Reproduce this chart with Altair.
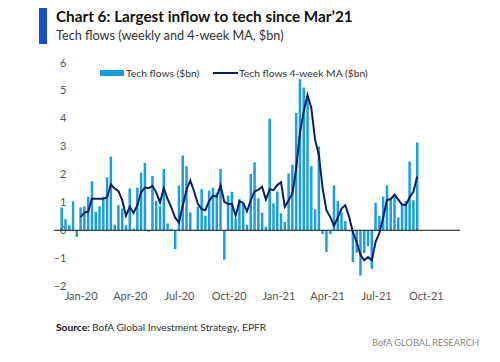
import altair as alt
import pandas as pd

# weekly dates (Wednesdays), first bar 27-Nov-2019
weeks = pd.date_range("2019-11-27", periods=95, freq="7D").strftime("%Y-%m-%dT00:00:00").tolist()

flows = [0.82, 0.40, 0.18, 1.04, -0.24, 0.82, 0.86, 1.20, 1.76, 0.66,
         0.86, 1.20, 1.90, 2.64, 0.20, 0.90, 0.78, 0.18, 1.50, 0.06,
         1.53, 2.07, 2.42, -0.05, 1.95, 1.06, 0.88, 2.20, 0.24, 0.05,
         -0.68, 1.60, 2.68, 2.30, 0.64, 0.02, 0.85, 1.48, 0.52, 1.42,
         1.53, 1.35, 2.20, -1.05, 1.24, 1.38, 0.42, 1.12, 0.97, 0.20,
         2.02, 2.44, 1.15, 0.63, 0.13, 4.00, 0.97, 1.39, 0.61, 0.30,
         2.04, 2.35, 4.21, 5.42, 5.12, 4.72, 2.30, 0.75, 3.00, -0.14,
         -0.78, -0.14, 1.61, 1.04, 0.64, 0.33, -0.04, -1.14, -0.80, -1.63,
         -0.82, -0.57, -1.38, 0.99, 0.52, 1.20, 1.61, 1.10, 1.20, 0.46,
         0.95, 1.05, 2.46, 1.08, 3.15]

ma = [None] * 5 + [
    0.47, 0.63, 0.67, 1.14, 1.13, 1.13, 1.13, 1.18, 1.64, 1.50,
    1.40, 1.08, 0.52, 0.84, 0.62, 0.90, 1.36, 1.53, 1.51, 1.59,
    1.36, 1.00, 1.52, 1.12, 0.82, 0.45, 0.28, 0.88, 1.45, 1.78,
    1.40, 0.95, 0.76, 0.72, 1.06, 1.24, 1.21, 1.60, 1.02, 0.94,
    0.95, 0.52, 1.04, 0.98, 0.68, 1.08, 1.40, 1.45, 1.56, 1.10,
    1.47, 1.44, 1.62, 1.72, 0.84, 1.08, 1.32, 2.22, 3.50, 4.27,
    4.85, 4.40, 3.25, 2.70, 1.50, 0.72, 0.48, 0.16, 0.45, 0.78,
    0.90, 0.48, -0.08, -0.42, -0.88, -1.08, -0.96, -1.08, -0.42, -0.10,
    0.45, 1.08, 1.12, 1.28, 1.10, 0.92, 0.90, 1.18, 1.38, 1.93]

y_ticks = [-2, -1, 0, 1, 2, 3, 4, 5, 6]
x_tick_months = [(2020, 1), (2020, 4), (2020, 7), (2020, 10),
                 (2021, 1), (2021, 4), (2021, 7), (2021, 10)]

title = "Chart 6: Largest inflow to tech since Mar\u201921"
subtitle = "Tech flows (weekly and 4-week MA, $bn)"
legend_bar = "Tech flows ($bn)"
legend_line = "Tech flows 4-week MA ($bn)"
source_label = "Source:"
source_text = "BofA Global Investment Strategy, EPFR"
brand = "BofA GLOBAL RESEARCH"

df = pd.DataFrame({"week": weeks, "flows": flows, "ma": ma})

BAR = "#1a9fdc"
LINE = "#0d1f5e"
FONT = "Lato, sans-serif"

xscale = alt.Scale(domain=[alt.DateTime(year=2019, month=11, date=22),
                           alt.DateTime(year=2021, month=11, date=24)])
yscale = alt.Scale(domain=[-2, 6], nice=False)
xaxis = alt.Axis(format="%b-%y",
                 values=[alt.DateTime(year=y, month=m, date=1) for y, m in x_tick_months],
                 title=None, domain=False, ticks=False, grid=False,
                 labelFont=FONT, labelFontSize=11, labelColor="#555555",
                 labelPadding=4, labelFlush=False, labelOverlap=False)
yaxis = alt.Axis(values=y_ticks, tickCount=9, title=None, domain=False, ticks=False,
                 grid=False, labelFont=FONT, labelFontSize=11, labelColor="#555555",
                 labelPadding=6, offset=-18, labelOverlap=False)

base = alt.Chart(df)
bars = base.mark_bar(color=BAR, size=2.5).encode(
    x=alt.X("week:T", scale=xscale, axis=xaxis),
    y=alt.Y("flows:Q", scale=yscale, axis=yaxis),
)
line = base.transform_filter("datum.ma != null").mark_line(
    color=LINE, strokeWidth=2).encode(
    x=alt.X("week:T", scale=xscale, axis=xaxis),
    y=alt.Y("ma:Q", scale=yscale, axis=yaxis))

one = pd.DataFrame({"z": [0]})
zero = alt.Chart(one).mark_rule(color="#111111", strokeWidth=1.2).encode(
    y=alt.YDatum(0, scale=yscale, axis=yaxis))


def txt(s, x, y, size, color="#333333", weight="normal", align="left"):
    return alt.Chart(pd.DataFrame({"t": [s]})).mark_text(
        font=FONT, fontSize=size, color=color, fontWeight=weight, align=align,
        baseline="alphabetic").encode(x=alt.value(x), y=alt.value(y), text="t:N")


title_bar = alt.Chart(one).mark_rect(color="#1350c8").encode(
    x=alt.value(-15), x2=alt.value(-7), y=alt.value(-56), y2=alt.value(-19))
leg_sw1 = alt.Chart(one).mark_rect(color=BAR).encode(
    x=alt.value(46), x2=alt.value(70), y=alt.value(7), y2=alt.value(13))
leg_sw2 = alt.Chart(one).mark_rule(color=LINE, strokeWidth=2).encode(
    x=alt.value(159), x2=alt.value(184), y=alt.value(10))

chart = alt.layer(
    bars, zero, line,
    title_bar,
    txt(title, 2, -41, 15.3, "#111111", "bold"),
    txt(subtitle, 2, -23, 12.7, "#333333"),
    leg_sw1, txt(legend_bar, 72, 14, 10.3, "#333333"),
    leg_sw2, txt(legend_line, 185, 14, 10.3, "#333333"),
    txt(source_label, 2, 268, 10.2, "#111111", "bold"),
    txt(source_text, 38, 268, 10.2, "#333333"),
    txt(brand, 425, 283, 9.3, "#8a8a8a", align="right"),
).properties(
    width=406, height=223,
    padding={"left": 46, "top": 55, "right": 30, "bottom": 70},
    autosize=alt.AutoSizeParams(type="none"),
).configure_view(stroke=None)

chart.save("out.html", embed_options={"renderer": "svg", "actions": False})
